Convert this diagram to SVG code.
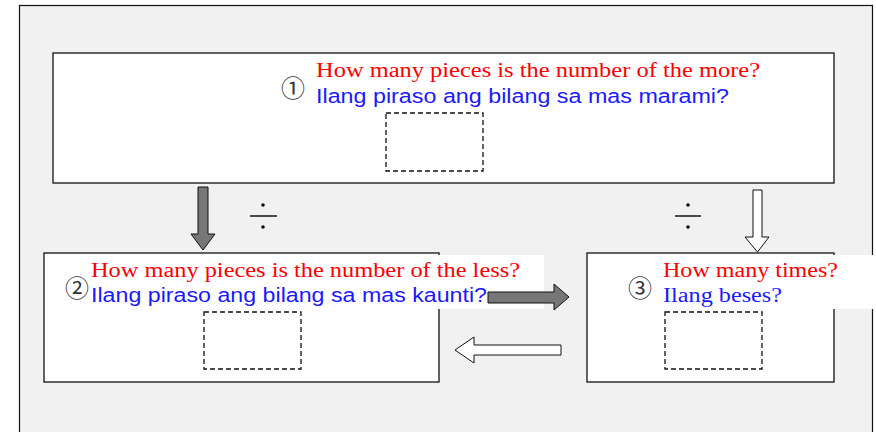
<svg xmlns="http://www.w3.org/2000/svg" width="876" height="432" viewBox="0 0 876 432">
<style>
.box{fill:#fff;stroke:#111;stroke-width:1.3}
.dash{fill:#fff;stroke:#111;stroke-width:1.3;stroke-dasharray:5 3}
.red{fill:#ff0000;font-family:"Liberation Serif","Times New Roman",serif;font-size:20px}
.blue{fill:#1a1aff;font-family:"Liberation Sans",Arial,sans-serif;font-size:20px}
.blues{fill:#1a1aff;font-family:"Liberation Serif","Times New Roman",serif;font-size:20px}
.num{fill:#333;font-family:"Noto Sans CJK JP","DejaVu Sans",sans-serif;font-size:24px}
.tb{fill:#fff;stroke:none}
.ag{fill:#777;stroke:#111;stroke-width:1}
.aw{fill:#fff;stroke:#111;stroke-width:1}
</style>
<rect x="19.5" y="5.5" width="853" height="440" fill="#f1f1f1" stroke="#111" stroke-width="1.2"/>
<g id="node1">
<rect class="box" x="53" y="53" width="781" height="130"/>
<text class="num" x="281" y="97">①</text>
<text class="red" x="316" y="77" textLength="444" lengthAdjust="spacingAndGlyphs">How many pieces is the number of the more?</text>
<text class="blue" x="316" y="103" textLength="413" lengthAdjust="spacingAndGlyphs">Ilang piraso ang bilang sa mas marami?</text>
<rect class="dash" x="386" y="113" width="97" height="58"/>
</g>
<g id="node2">
<rect class="box" x="44" y="253" width="395" height="129"/>
<rect class="tb" x="88" y="255" width="456" height="54"/>
<text class="num" x="65" y="297">②</text>
<text class="red" x="91" y="277" textLength="429" lengthAdjust="spacingAndGlyphs">How many pieces is the number of the less?</text>
<text class="blue" x="91" y="302" textLength="396" lengthAdjust="spacingAndGlyphs">Ilang piraso ang bilang sa mas kaunti?</text>
<rect class="dash" x="204" y="312" width="97" height="57"/>
</g>
<g id="node3">
<rect class="box" x="587" y="253" width="247" height="129"/>
<rect class="tb" x="655" y="255" width="221" height="54"/>
<text class="num" x="628" y="297">③</text>
<text class="red" x="663" y="277" textLength="175" lengthAdjust="spacingAndGlyphs">How many times?</text>
<text class="blues" x="663" y="302" textLength="119" lengthAdjust="spacingAndGlyphs">Ilang beses?</text>
<rect class="dash" x="665" y="312" width="97" height="57"/>
</g>
<g id="connectors">
<polygon class="ag" points="198,187 208,187 208,234 215,234 203,250 191,234 198,234"/>
<polygon class="aw" points="753,190 762,190 762,237 769,237 757.5,252 745,237 753,237"/>
<polygon class="ag" points="488,292 554,292 554,284 569,297 554,310 554,303 488,303"/>
<polygon class="aw" points="561,345 474,345 474,337 455,350 474,363 474,355 561,355"/>
<g id="div1"><line x1="250" y1="216" x2="277" y2="216" stroke="#111" stroke-width="1.5"/><circle cx="263" cy="205" r="1.8" fill="#111"/><circle cx="263" cy="227" r="1.8" fill="#111"/></g>
<g id="div2"><line x1="675" y1="216" x2="701" y2="216" stroke="#111" stroke-width="1.5"/><circle cx="688" cy="205" r="1.8" fill="#111"/><circle cx="688" cy="227" r="1.8" fill="#111"/></g>
</g>
</svg>
